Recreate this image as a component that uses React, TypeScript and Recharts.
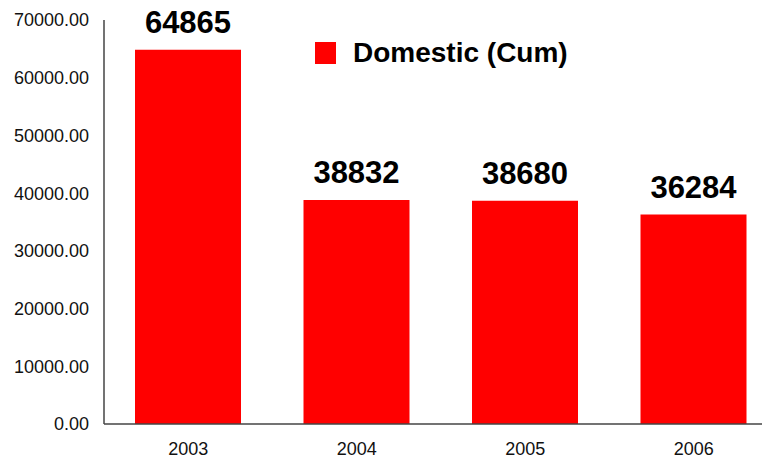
import { BarChart, Bar, XAxis, YAxis, LabelList } from "recharts"

const years = ["2003", "2004", "2005", "2006"]
const domestic = [64865, 38832, 38680, 36284]
const yTicks = [0, 10000, 20000, 30000, 40000, 50000, 60000, 70000]
const seriesName = "Domestic (Cum)"

const data = years.map((year, i) => ({ year, domestic: domestic[i] }))

const FONT = "'Liberation Sans', Arial, sans-serif"

export default function App() {
  return (
    <div style={{ margin: -8, width: 770, height: 464, overflow: "hidden", background: "#fff", position: "relative" }}>
      <BarChart
        width={778}
        height={464}
        data={data}
        margin={{ top: 20, right: 0, left: 0, bottom: 0 }}
      >
        {/* Y-Axis */}
        <YAxis
          width={104}
          domain={[0, 70000]}
          ticks={yTicks}
          tickFormatter={(v: number) => v.toFixed(2)}
          tickLine={false}
          tickSize={0}
          tickMargin={15}
          axisLine={{ stroke: "#444", strokeWidth: 1.5 }}
          tick={{ fill: "#111", fontSize: 18, fontFamily: FONT }}
        />

        {/* X-Axis */}
        <XAxis
          dataKey="year"
          height={40}
          tickLine={false}
          tickSize={0}
          tickMargin={18}
          axisLine={{ stroke: "#444", strokeWidth: 1.5 }}
          tick={{ fill: "#111", fontSize: 18, fontFamily: FONT }}
        />

        <Bar dataKey="domestic" name={seriesName} fill="#ff0000" barSize={106} isAnimationActive={false}>
          <LabelList
            dataKey="domestic"
            position="top"
            offset={17}
            fill="#000"
            fontSize={31}
            fontWeight="bold"
            fontFamily={FONT}
          />
        </Bar>
      </BarChart>

      {/* legend, sits over the plot without taking space from it */}
      <div style={{ position: "absolute", top: 37, left: 315, display: "flex", alignItems: "center", fontFamily: FONT }}>
        <span style={{ width: 21, height: 22, background: "#ff0000", display: "inline-block" }} />
        <span style={{ marginLeft: 17, fontSize: 28, fontWeight: "bold", color: "#000", lineHeight: "32px" }}>
          {seriesName}
        </span>
      </div>
    </div>
  )
}
